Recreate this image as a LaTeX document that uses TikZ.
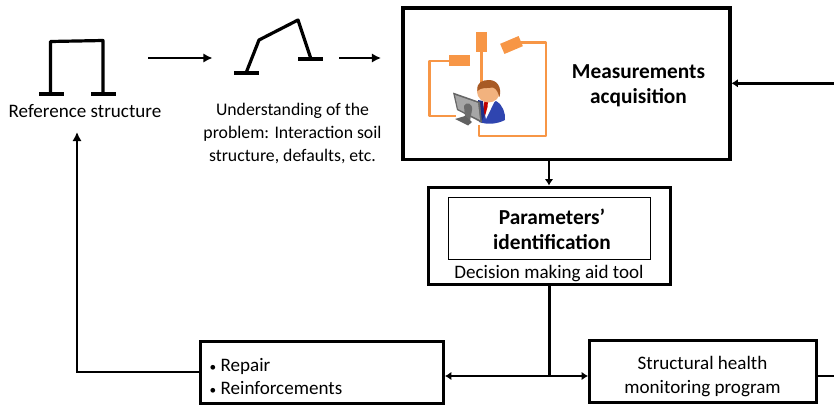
\documentclass[tikz,border=0pt]{standalone}
\usepackage{fontspec}
\setmainfont{Carlito}
\usetikzlibrary{arrows.meta,calc,shapes.geometric}
\definecolor{sensor}{HTML}{F79646}
\definecolor{suit}{HTML}{2F45B0}
\definecolor{suitdark}{HTML}{1F2F88}
\definecolor{skin}{HTML}{F2B27E}
\definecolor{hair}{HTML}{A85A24}
\tikzset{
 x=0.75pt,y=-0.75pt,
 heavybox/.style={draw=black,line width=2.25pt,outer sep=0pt,inner sep=0pt,anchor=north west},
 thinbox/.style={draw=black,line width=0.6pt,outer sep=0pt,inner sep=0pt,anchor=north west},
 flow/.style={line width=2.2pt,-{Latex[length=6.8pt,width=7pt]}},
 smallflow/.style={line width=2.2pt,shorten >=1.1pt,-{Latex[length=4.8pt,width=6.4pt]}},
 plainline/.style={line width=2.2pt},
 frameline/.style={line width=2.4pt,line join=round},
 wire/.style={draw=sensor,line width=2pt,line join=round},
 sensorbox/.style={fill=sensor,draw=none,inner sep=0pt},
 txt/.style={font=\fontsize{14.3pt}{17.5pt}\selectfont,align=center,text=black},
 big/.style={font=\fontsize{16pt}{18.9pt}\selectfont\bfseries,align=center,text=black},
}
\begin{document}
\begin{tikzpicture}
\useasboundingbox (0,0) rectangle (834,407);
% boxes
\node[heavybox,line width=2.7pt,minimum width=245.25pt,minimum height=113.6pt] (meas) at (403,8) {};
\node[heavybox,minimum width=181.5pt,minimum height=73.1pt] (param) at (428,187) {};
\node[thinbox,minimum width=151pt,minimum height=46.4pt] (inner) at (448.8,197.5) {};
\node[heavybox,minimum width=182.1pt,minimum height=46.35pt] (repair) at (200.7,341.7) {};
\node[heavybox,minimum width=169.9pt,minimum height=46.5pt] (shm) at (589.5,340) {};
% texts
\node[big] (meastxt) at (638.5,85.5) {Measurements\\acquisition};
\node[big] (paramtxt) at (552,229.5) {Parameters’\\identification};
\node[txt] (aid) at (549,273.5) {Decision making aid tool};
\node[txt] (shmtxt) at (702.5,376.5) {Structural health\\monitoring program};
\node[txt,align=left,anchor=west] (repairtxt) at (205,376.5) {{\fontsize{10pt}{10pt}\selectfont•}\hspace{3.2pt}Repair\\{\fontsize{10pt}{10pt}\selectfont•}\hspace{3.2pt}Reinforcements};
\node[txt] (reftxt) at (85,111) {Reference structure};
\node[txt,font=\fontsize{13.3pt}{17.6pt}\selectfont] (undertxt) at (292.5,133.5) {Understanding of the\\problem: Interaction soil\\structure, defaults, etc.};
% structure 1
\coordinate (a1) at (50.5,94); \coordinate (a2) at (50.5,41.5); \coordinate (a3) at (103,40.5); \coordinate (a4) at (103,94);
\draw[frameline] (a1) -- (a2) -- (a3) -- (a4);
\draw[frameline] (39,94) -- (64,94);
\draw[frameline] (91,94) -- (116,94);
% structure 2
\coordinate (b1) at (246,73); \coordinate (b2) at (259,40); \coordinate (b3) at (298,20); \coordinate (b4) at (311,59);
\draw[frameline] (b1) -- (b2) -- (b3) -- (b4);
\draw[frameline] (234,73) -- (259,73);
\draw[frameline] (298,59) -- (323,59);
% flow arrows
\coordinate (s1) at (148,58); \coordinate (e1) at (212.5,58);
\coordinate (s2) at (339,58); \coordinate (e2) at (381,58);
\draw[flow] (s1) -- (e1);
\draw[flow] (s2) -- (e2);
\coordinate (rin) at (834,83.3);
\draw[smallflow] (rin) -- (meas.east |- rin);
\coordinate (md) at (549,159.5);
\draw[smallflow] (md) -- (param.north -| md);
\coordinate (j) at (549.5,376);
\draw[plainline] (param.south -| j) -- (j);
\draw[smallflow] (j) -- (repair.east |- j);
\draw[smallflow] (j) -- (shm.west |- j);
\coordinate (up) at (77,132);
\coordinate (lc) at (77,372);
\draw[flow,line join=miter] (repair.west |- lc) -- (lc) -- (up);
\coordinate (rout) at (834,376);
\draw[plainline] (shm.east |- rout) -- (rout);
% icon wires
\draw[wire] (450,61) -- (429.5,61) -- (429.5,116) -- (456,116);
\draw[wire] (481.5,50) -- (481.5,85);
\draw[wire] (479,125) -- (479,136) -- (546,136) -- (546,42.5) -- (515,42.5);
\node[sensorbox,minimum width=15.75pt,minimum height=8.25pt] (s_a) at (459.5,60.5) {};
\node[sensorbox,minimum width=8.25pt,minimum height=15pt] (s_b) at (481.5,42) {};
\node[sensorbox,minimum width=15pt,minimum height=8.25pt,rotate=23] (s_c) at (511.5,45) {};
% person
\fill[suit] (479,122) .. controls (482,108) and (488,105) .. (496,101) .. controls (503,105) and (505.5,113) .. (505,120) .. controls (497,124) and (488,125) .. (479,122) -- cycle;
\fill[white] (482,102) -- (495,100.5) -- (486,119) -- cycle;
\fill[red!75!black] (484.5,101) -- (488,101) -- (487.5,107) -- (485,116) -- (483,110) -- cycle;
\fill[suitdark] (478,100) -- (483,101) -- (484.5,116) -- (481,122) -- cycle;
\fill[skin] (488.5,91.5) ellipse[x radius=11.5,y radius=11];
\fill[hair] (477.5,91) .. controls (476,82) and (483,80) .. (489,80) .. controls (497,80) and (502,87) .. (499.5,97) .. controls (498,93) and (497,89) .. (493,87.5) .. controls (487,88.5) and (481,87) .. (477.5,91) -- cycle;
% monitor
\fill[black!60] (453,92.5) -- (480,102) -- (482,123) -- (457,110) -- cycle;
\fill[black!35] (455,95) -- (478,103) -- (480,120) -- (458,109) -- cycle;
\fill[black!58] (464,106) .. controls (466,101) and (473,103) .. (472,110) -- (470,121) -- (465,117) -- cycle;
\fill[black!62] (455,119) -- (465,116) -- (472,122) -- (468,125.5) -- cycle;
\end{tikzpicture}
\end{document}
